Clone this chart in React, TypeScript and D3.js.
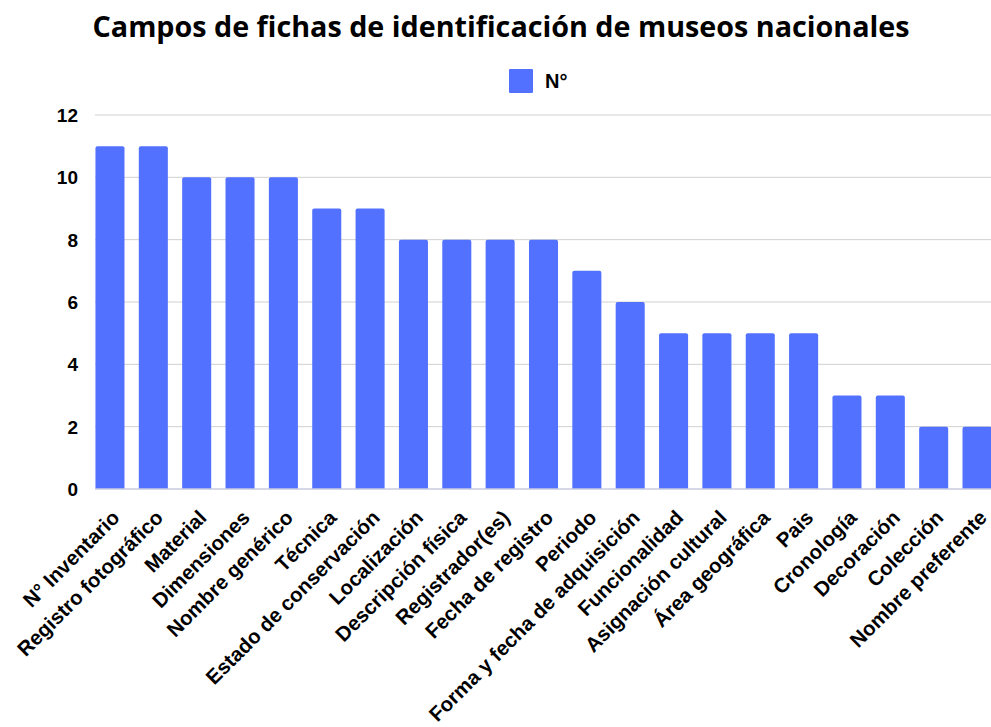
import React from "react";
import * as d3 from "d3";

const categories = ["N° Inventario","Registro fotográfico","Material","Dimensiones","Nombre genérico","Técnica","Estado de conservación","Localización","Descripción física","Registrador(es)","Fecha de registro","Periodo","Forma y fecha de adquisición","Funcionalidad","Asignación cultural","Área geográfica","Pais","Cronología","Decoración","Colección","Nombre preferente"];
const values = [11,11,10,10,10,9,9,8,8,8,8,7,6,5,5,5,5,3,3,2,2];
const yTicks = [0,2,4,6,8,10,12];
const title = "Campos de fichas de identificación de museos nacionales";
const seriesName = "N°";

const W = 991, H = 727;
const color = "#5271FF";
const sans = "'Liberation Sans', Arial, sans-serif";

export default function App() {
  const x = d3.scaleBand<string>().domain(categories).range([88.3, 998.7]).paddingInner(0.33).paddingOuter(0.165);
  const y = d3.scaleLinear().domain([0, 12]).range([489, 115]);
  const gridX0 = 95, gridX1 = 991;
  const r = 2;
  const barPath = (x0: number, y0: number, w: number, h: number) =>
    `M${x0},${y0 + h}V${y0 + r}Q${x0},${y0} ${x0 + r},${y0}H${x0 + w - r}Q${x0 + w},${y0} ${x0 + w},${y0 + r}V${y0 + h}Z`;
  return (
    <svg width={W} height={H} style={{ position: "absolute", left: 0, top: 0, background: "#fff" }}>
      <rect width={W} height={H} fill="#fff" />
      <text x={501} y={37} textAnchor="middle" fontFamily="'Open Sans', sans-serif" fontWeight={700} fontSize={28.5} fill="#000" textLength={817} lengthAdjust="spacingAndGlyphs">{title}</text>
      <rect x={509} y={69} width={24} height={24} rx={1} fill={color} />
      <text x={545} y={88} fontFamily={sans} fontWeight={700} fontSize={20} fill="#000">{seriesName}</text>
      {yTicks.map(t => (
        <g key={t}>
          {t > 0 && <line x1={gridX0} x2={gridX1} y1={y(t)} y2={y(t)} stroke="#d0d0d0" strokeWidth={1} />}
          <text x={78} y={y(t)} dy="0.36em" textAnchor="end" fontFamily={sans} fontWeight={700} fontSize={19} fill="#000">{t}</text>
        </g>
      ))}
      {categories.map((c, i) => {
        const x0 = x(c)!;
        const bw = x.bandwidth();
        const y0 = y(values[i]);
        return <path key={c} d={barPath(x0, y0, bw, y(0) - y0)} fill={color} />;
      })}
      <line x1={gridX0} x2={gridX1} y1={y(0)} y2={y(0)} stroke="#c9cbe0" strokeWidth={1.5} />
      {categories.map(c => {
        const cx = x(c)! + x.bandwidth() / 2;
        return (
          <text key={c} transform={`translate(${cx + 11},${519}) rotate(-45)`} textAnchor="end" fontFamily={sans} fontWeight={700} fontSize={20.5} fill="#000">{c}</text>
        );
      })}
    </svg>
  );
}
